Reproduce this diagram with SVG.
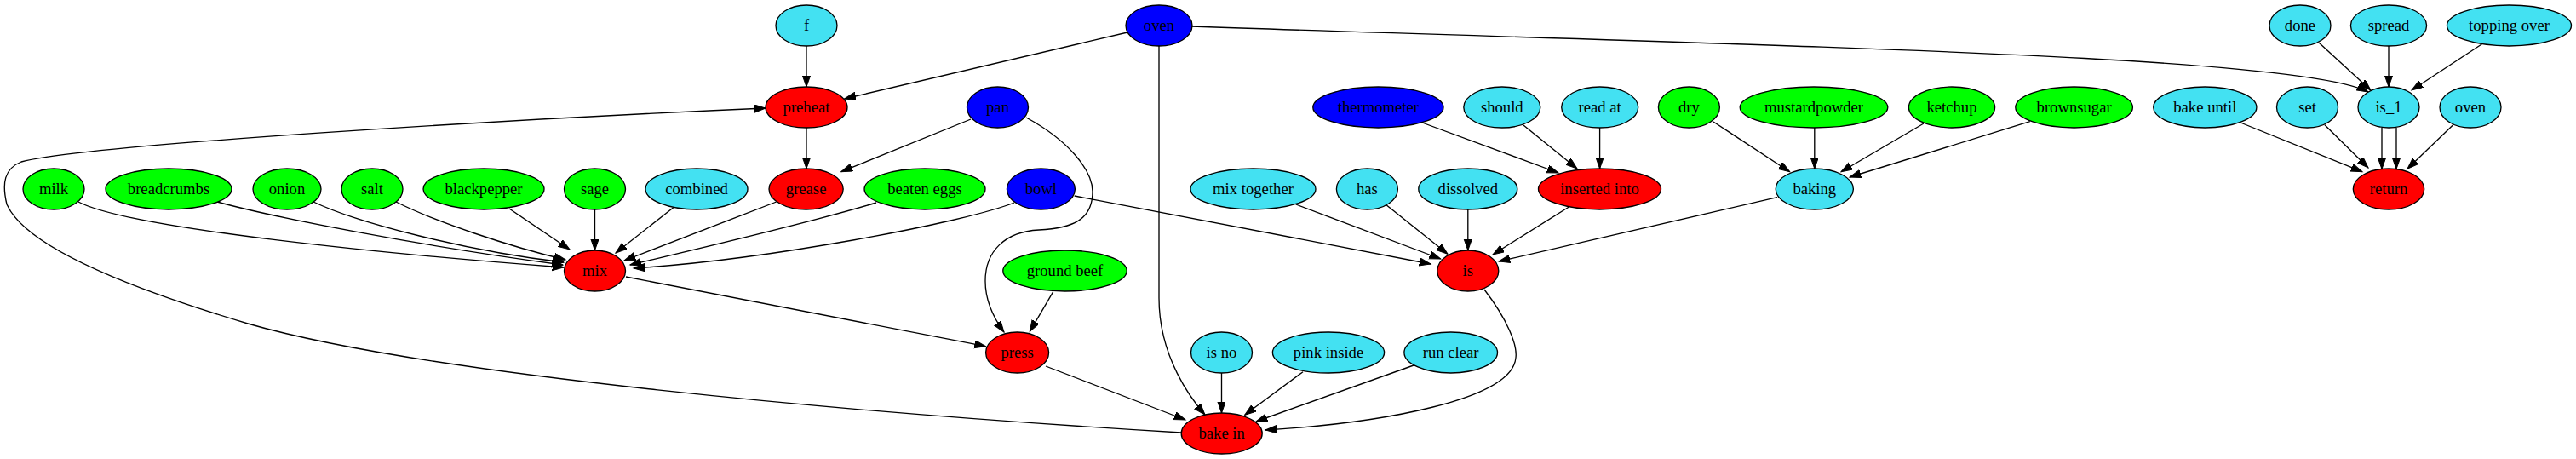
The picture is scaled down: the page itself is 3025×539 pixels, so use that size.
<svg xmlns="http://www.w3.org/2000/svg" width="3025" height="539" viewBox="0 0 3025 539">
<style>
.n ellipse{stroke:#000;stroke-width:1.33}
.r ellipse{fill:#ff0000}.g ellipse{fill:#00ff00}.b ellipse{fill:#0000ff}.c ellipse{fill:#43e1f2}
.n text{font-family:"Liberation Serif","Times New Roman",serif;font-size:18.67px;text-anchor:middle;fill:#000}
#edges path{fill:none;stroke:#000;stroke-width:1.33;marker-end:url(#ah)}
</style>
<defs>
<marker id="ah" markerUnits="userSpaceOnUse" markerWidth="16" markerHeight="12" refX="13.3" refY="4.67" orient="auto">
<path d="M0,0 L13.3,4.67 L0,9.33 Z" fill="#000" stroke="#000" stroke-width="1"/>
</marker>
</defs>
<rect width="3025" height="539" fill="#fff"/>
<g id="edges">
<path d="M947,54 L947,102"/>
<path d="M1324,38 L991.7,116"/>
<path d="M1399,31 C2100,55 2700,65 2781,108"/>
<path d="M1361,54 L1361,350 C1361,420 1400,470 1415,487"/>
<path d="M1387,508 C1000,485 500,440 291,380 C150,338 30,290 8,240 C2,215 5,198 25,190 C100,170 600,140 899,127"/>
<path d="M947,150 L947,198"/>
<path d="M1140,140 L987.8,201.7"/>
<path d="M1205,138 C1255,165 1283,200 1283,225 C1283,258 1260,268 1220,270 C1180,272 1157,295 1157,330 C1157,355 1168,375 1179,390"/>
<path d="M92,237 C150,268 450,298 662,314"/>
<path d="M255,237 C320,255 500,290 661,311"/>
<path d="M368,237 C420,262 550,295 662,308"/>
<path d="M465,237 C510,260 600,290 664,305"/>
<path d="M598,245 L669,293"/>
<path d="M698.5,246 L698.5,294"/>
<path d="M791.7,243 L723,297"/>
<path d="M911.7,237 L733,306"/>
<path d="M1029,238 C950,262 820,292 740,311"/>
<path d="M1191,238 C1130,262 900,305 744,315"/>
<path d="M735,325 L1157.5,406.7"/>
<path d="M1236.7,342.7 L1209.3,389.3"/>
<path d="M1228,430 L1392,493"/>
<path d="M1434.5,438 L1434.5,485"/>
<path d="M1530,436.7 L1461.7,487.3"/>
<path d="M1660,429 L1475,495"/>
<path d="M1743,340 C1770,375 1782,405 1780,420 C1776,470 1620,497 1486,505"/>
<path d="M1670,144 L1830,203"/>
<path d="M1789,147 L1852,198"/>
<path d="M1878.6,150 L1878.6,198"/>
<path d="M1521.7,240 L1691.7,304"/>
<path d="M1261.7,230 L1680,310"/>
<path d="M1628,240.7 L1700,298.3"/>
<path d="M1723.8,246 L1723.8,294"/>
<path d="M1842.4,243 L1753,299"/>
<path d="M2087,231.7 L1760,307"/>
<path d="M2012,143 L2101.7,201.7"/>
<path d="M2130.8,150 L2130.8,198"/>
<path d="M2259,145 L2162,201.7"/>
<path d="M2383.8,142.7 L2172,208"/>
<path d="M2723,50 L2784,106"/>
<path d="M2805,54 L2805,102"/>
<path d="M2914.5,51.7 L2832,106"/>
<path d="M2797,150 L2797,198.5"/>
<path d="M2814,150 L2814,198.5"/>
<path d="M2631,144 L2774,201.7"/>
<path d="M2730,146.7 L2781,197"/>
<path d="M2880.6,146.7 L2827,198.3"/>
</g>
<g id="n-f" class="n c"><ellipse cx="947" cy="30" rx="36" ry="24"/><text x="947" y="36">f</text></g>
<g id="n-oven" class="n b"><ellipse cx="1361" cy="30" rx="39" ry="24"/><text x="1361" y="36">oven</text></g>
<g id="n-done" class="n c"><ellipse cx="2701" cy="30" rx="36" ry="24"/><text x="2701" y="36">done</text></g>
<g id="n-spread" class="n c"><ellipse cx="2805" cy="30" rx="44.6" ry="24"/><text x="2805" y="36">spread</text></g>
<g id="n-topping-over" class="n c"><ellipse cx="2946.5" cy="30" rx="73" ry="24"/><text x="2946.5" y="36">topping over</text></g>
<g id="n-preheat" class="n r"><ellipse cx="947" cy="126" rx="48" ry="24"/><text x="947" y="132">preheat</text></g>
<g id="n-pan" class="n b"><ellipse cx="1171.5" cy="126" rx="36" ry="24"/><text x="1171.5" y="132">pan</text></g>
<g id="n-thermometer" class="n b"><ellipse cx="1618.4" cy="126" rx="76.6" ry="24"/><text x="1618.4" y="132">thermometer</text></g>
<g id="n-should" class="n c"><ellipse cx="1763.8" cy="126" rx="45" ry="24"/><text x="1763.8" y="132">should</text></g>
<g id="n-read-at" class="n c"><ellipse cx="1878.7" cy="126" rx="45" ry="24"/><text x="1878.7" y="132">read at</text></g>
<g id="n-dry" class="n g"><ellipse cx="1983.4" cy="126" rx="36" ry="24"/><text x="1983.4" y="132">dry</text></g>
<g id="n-mustardpowder" class="n g"><ellipse cx="2130" cy="126" rx="86.8" ry="24"/><text x="2130" y="132">mustardpowder</text></g>
<g id="n-ketchup" class="n g"><ellipse cx="2292" cy="126" rx="50.6" ry="24"/><text x="2292" y="132">ketchup</text></g>
<g id="n-brownsugar" class="n g"><ellipse cx="2435.6" cy="126" rx="68.8" ry="24"/><text x="2435.6" y="132">brownsugar</text></g>
<g id="n-bake-until" class="n c"><ellipse cx="2589.3" cy="126" rx="60.6" ry="24"/><text x="2589.3" y="132">bake until</text></g>
<g id="n-set" class="n c"><ellipse cx="2709.5" cy="126" rx="36" ry="24"/><text x="2709.5" y="132">set</text></g>
<g id="n-is_1" class="n c"><ellipse cx="2805" cy="126" rx="36" ry="24"/><text x="2805" y="132">is_1</text></g>
<g id="n-oven2" class="n c"><ellipse cx="2901" cy="126" rx="36" ry="24"/><text x="2901" y="132">oven</text></g>
<g id="n-milk" class="n g"><ellipse cx="63" cy="222" rx="36" ry="24"/><text x="63" y="228">milk</text></g>
<g id="n-breadcrumbs" class="n g"><ellipse cx="198" cy="222" rx="74" ry="24"/><text x="198" y="228">breadcrumbs</text></g>
<g id="n-onion" class="n g"><ellipse cx="337" cy="222" rx="40" ry="24"/><text x="337" y="228">onion</text></g>
<g id="n-salt" class="n g"><ellipse cx="437" cy="222" rx="36" ry="24"/><text x="437" y="228">salt</text></g>
<g id="n-blackpepper" class="n g"><ellipse cx="568" cy="222" rx="71" ry="24"/><text x="568" y="228">blackpepper</text></g>
<g id="n-sage" class="n g"><ellipse cx="698.5" cy="222" rx="36" ry="24"/><text x="698.5" y="228">sage</text></g>
<g id="n-combined" class="n c"><ellipse cx="818" cy="222" rx="60" ry="24"/><text x="818" y="228">combined</text></g>
<g id="n-grease" class="n r"><ellipse cx="946.6" cy="222" rx="43.6" ry="24"/><text x="946.6" y="228">grease</text></g>
<g id="n-beaten-eggs" class="n g"><ellipse cx="1086" cy="222" rx="71" ry="24"/><text x="1086" y="228">beaten eggs</text></g>
<g id="n-bowl" class="n b"><ellipse cx="1222.4" cy="222" rx="40" ry="24"/><text x="1222.4" y="228">bowl</text></g>
<g id="n-mix-together" class="n c"><ellipse cx="1471.5" cy="222" rx="73.5" ry="24"/><text x="1471.5" y="228">mix together</text></g>
<g id="n-has" class="n c"><ellipse cx="1605.4" cy="222" rx="36" ry="24"/><text x="1605.4" y="228">has</text></g>
<g id="n-dissolved" class="n c"><ellipse cx="1723.8" cy="222" rx="58" ry="24"/><text x="1723.8" y="228">dissolved</text></g>
<g id="n-inserted-into" class="n r"><ellipse cx="1878.5" cy="222" rx="72" ry="24"/><text x="1878.5" y="228">inserted into</text></g>
<g id="n-baking" class="n c"><ellipse cx="2130.8" cy="222" rx="45.6" ry="24"/><text x="2130.8" y="228">baking</text></g>
<g id="n-return" class="n r"><ellipse cx="2805" cy="222" rx="41.7" ry="24"/><text x="2805" y="228">return</text></g>
<g id="n-mix" class="n r"><ellipse cx="698.5" cy="318" rx="36" ry="24"/><text x="698.5" y="324">mix</text></g>
<g id="n-ground-beef" class="n g"><ellipse cx="1250.5" cy="318" rx="72.7" ry="24"/><text x="1250.5" y="324">ground beef</text></g>
<g id="n-is" class="n r"><ellipse cx="1723.8" cy="318" rx="36" ry="24"/><text x="1723.8" y="324">is</text></g>
<g id="n-press" class="n r"><ellipse cx="1194.6" cy="414" rx="37" ry="24"/><text x="1194.6" y="420">press</text></g>
<g id="n-is-no" class="n c"><ellipse cx="1434.5" cy="414" rx="36" ry="24"/><text x="1434.5" y="420">is no</text></g>
<g id="n-pink-inside" class="n c"><ellipse cx="1560" cy="414" rx="65.6" ry="24"/><text x="1560" y="420">pink inside</text></g>
<g id="n-run-clear" class="n c"><ellipse cx="1703.7" cy="414" rx="54.8" ry="24"/><text x="1703.7" y="420">run clear</text></g>
<g id="n-bake-in" class="n r"><ellipse cx="1434.7" cy="509" rx="47.5" ry="24"/><text x="1434.7" y="515">bake in</text></g>
</svg>
